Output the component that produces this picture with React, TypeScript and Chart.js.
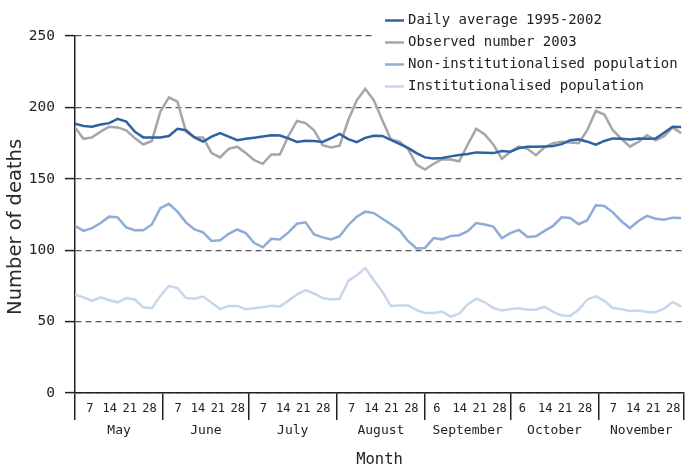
import React, { useEffect, useRef } from 'react';
import { Chart, registerables } from 'chart.js';

Chart.register(...registerables);

// Day index from 1 May 2003 (0 = 1 May, 214 = 1 December)
const days = [0, 3, 6, 9, 12, 15, 18, 21, 24, 27, 30, 33, 36, 39, 42, 45, 48, 51, 54, 57, 60, 63, 66, 69, 72, 75, 78, 81, 84, 87, 90, 93, 96, 99, 102, 105, 108, 111, 114, 117, 120, 123, 126, 129, 132, 135, 138, 141, 144, 147, 150, 153, 156, 159, 162, 165, 168, 171, 174, 177, 180, 183, 186, 189, 192, 195, 198, 201, 204, 207, 210, 213];

const dailyAverage = [188.5, 187, 186.5, 188, 189, 192, 190, 183, 179, 179, 179, 180, 185, 184, 179, 176, 179.5, 182, 179.5, 177, 178, 178.8, 179.6, 180.5, 180.3, 178.3, 175.8, 176.7, 176.4, 175.8, 178.4, 181.5, 177.8, 175.7, 178.7, 180.2, 180, 177.3, 174.5, 171.7, 168, 165, 164.3, 164.5, 165.7, 166.6, 167.3, 168.5, 168.3, 168, 169.5, 169, 171.5, 172.5, 172.5, 172.7, 173, 174.3, 177, 177.6, 176, 173.9, 176.5, 178.3, 178, 177.5, 178.2, 178, 178.2, 182.3, 186.4, 186.3];

const observed2003 = [186, 178, 179, 183, 186.5, 186, 184, 178.5, 174, 176.5, 197, 207, 204, 183, 179, 179, 168, 165, 171, 172.5, 168, 163, 160.5, 167, 167, 180, 190.5, 189, 184, 173.5, 172, 173.2, 191, 205, 213, 205, 191, 177.5, 176, 171, 160, 156.5, 160.5, 163.7, 163.5, 162.3, 174, 185, 181, 174, 164, 169, 172.7, 171, 166.5, 172, 175, 176, 175.5, 175, 184, 197.5, 195, 184, 178, 172.5, 175.8, 180.5, 177, 179.8, 186, 182];

const nonInstitutionalised = [117, 113.5, 115.5, 119, 123.5, 123, 116, 114, 114, 118, 129.5, 132.5, 127, 119.5, 114.5, 112.5, 106.5, 107, 111.5, 114.5, 112, 105, 102, 108, 107.5, 112.5, 118.5, 119.5, 111, 109, 107.5, 109.8, 117.5, 123.5, 127, 126, 122, 118.2, 114, 106.5, 101.2, 101.6, 108.5, 107.6, 110, 110.5, 113.3, 119, 118, 116.5, 108.5, 112, 114.2, 109.2, 109.8, 113.5, 117, 123, 122.5, 118.2, 121, 131.5, 131, 126.5, 120.3, 115.5, 120.5, 124, 122, 121.3, 122.8, 122.5];

const institutionalised = [69, 67, 64.5, 67, 65, 63.5, 66.5, 65.5, 60, 59.4, 68, 75, 73.5, 66.5, 66, 67.5, 63.2, 58.8, 61, 61, 58.7, 59.4, 60.1, 61.1, 60.5, 64.7, 69, 72, 69.7, 66.5, 65.5, 66, 78.5, 82.5, 87.5, 79, 71, 61, 61.2, 61.5, 58, 56, 56, 57, 53.5, 55.5, 62, 66, 63.5, 59.5, 57.8, 58.8, 59.4, 58.3, 58.3, 60.4, 56.8, 54.2, 54, 58.3, 65.5, 67.8, 64.5, 59.5, 58.6, 57.5, 57.8, 56.8, 56.6, 59, 63.8, 60.5];

const seriesLabels = ['Daily average 1995-2002', 'Observed number 2003', 'Non-institutionalised population', 'Institutionalised population'];
const seriesColors = ['#2d62a3', '#a6a6a6', '#8dadd6', '#c6d7ec'];

const monthNames = ['May', 'June', 'July', 'August', 'September', 'October', 'November'];
const monthStarts = [0, 31, 61, 92, 123, 153, 184, 214];
const dayTickLabels = [[7, 14, 21, 28], [7, 14, 21, 28], [7, 14, 21, 28], [7, 14, 21, 28], [6, 14, 21, 28], [6, 14, 21, 28], [7, 14, 21, 28]];
const yTickValues = [0, 50, 100, 150, 200, 250];

const MONO = '"DejaVu Sans Mono", monospace';
const INK = '#222222';

const dayTicks: { value: number; label: string }[] = [];
monthNames.forEach((_, m) => {
  dayTicks.push({ value: monthStarts[m], label: '' });
  dayTickLabels[m].forEach((d) => dayTicks.push({ value: monthStarts[m] + d - 1.8, label: String(d) }));
});
dayTicks.push({ value: monthStarts[monthStarts.length - 1], label: '' });
const boundarySet = new Set(monthStarts);
const monthMids = monthNames.map((_, i) => (monthStarts[i] + monthStarts[i + 1]) / 2);

const toPoints = (vals: number[]) => days.map((d, i) => ({ x: d, y: vals[i] }));

const cornerLegend = {
  id: 'cornerLegend',
  afterDraw(chart: any) {
    const ctx = chart.ctx;
    ctx.save();
    ctx.fillStyle = '#ffffff';
    ctx.fillRect(374, 0, chart.width - 374, 97);
    chart.data.datasets.forEach((ds: any, i: number) => {
      const y = 20.5 + i * 22;
      ctx.strokeStyle = ds.borderColor;
      ctx.lineWidth = 2.5;
      ctx.setLineDash([]);
      ctx.beginPath();
      ctx.moveTo(385, y);
      ctx.lineTo(404, y);
      ctx.stroke();
      ctx.fillStyle = INK;
      ctx.font = `14px ${MONO}`;
      ctx.textBaseline = 'middle';
      ctx.textAlign = 'left';
      ctx.fillText(ds.label, 408, y);
    });
    ctx.restore();
  },
};

export default function App() {
  const canvasRef = useRef<HTMLCanvasElement | null>(null);

  useEffect(() => {
    document.body.style.margin = '0';
    const canvas = canvasRef.current;
    if (!canvas) return;
    const series = [dailyAverage, observed2003, nonInstitutionalised, institutionalised];
    const chart = new Chart(canvas, {
      type: 'line',
      data: {
        datasets: series.map((vals, i) => ({
          label: seriesLabels[i],
          data: toPoints(vals),
          borderColor: seriesColors[i],
          backgroundColor: seriesColors[i],
          borderWidth: 2.5,
          pointRadius: 0,
          tension: 0,
          fill: false,
        })),
      },
      options: {
        animation: false,
        responsive: false,
        devicePixelRatio: 1,
        layout: { padding: { top: 36, right: 2, left: 0, bottom: 0 } },
        plugins: { legend: { display: false }, tooltip: { enabled: false } },
        scales: {
          x: {
            type: 'linear',
            position: 'bottom',
            weight: 0,
            min: 0,
            max: 214,
            bounds: 'data',
            afterBuildTicks: (s: any) => {
              s.ticks = dayTicks.map((t) => ({ value: t.value }));
            },
            afterFit: (s: any) => {
              s.height = 27;
            },
            ticks: {
              autoSkip: false,
              maxRotation: 0,
              minRotation: 0,
              padding: -18,
              color: INK,
              font: { family: MONO, size: 12 },
              callback: (_v: any, i: number) => dayTicks[i].label,
            },
            grid: {
              drawOnChartArea: false,
              drawTicks: true,
              tickLength: 27,
              lineWidth: 1.5,
              color: (c: any) => (c.tick && boundarySet.has(c.tick.value) ? INK : 'rgba(0,0,0,0)'),
            },
            border: { display: true, color: INK, width: 1.5 },
          },
          x2: {
            type: 'linear',
            position: 'bottom',
            weight: 1,
            min: 0,
            max: 214,
            bounds: 'data',
            afterBuildTicks: (s: any) => {
              s.ticks = monthMids.map((v) => ({ value: v }));
            },
            afterFit: (s: any) => {
              s.height = 49;
            },
            ticks: {
              autoSkip: false,
              maxRotation: 0,
              minRotation: 0,
              padding: 3,
              color: INK,
              font: { family: MONO, size: 13 },
              callback: (_v: any, i: number) => monthNames[i],
            },
            grid: { display: false, drawTicks: false },
            border: { display: false },
            title: { display: true, text: 'Month', color: INK, font: { family: MONO, size: 15.5 }, padding: 0 },
          },
          y: {
            type: 'linear',
            position: 'left',
            min: 0,
            max: 250,
            afterBuildTicks: (s: any) => {
              s.ticks = yTickValues.map((v) => ({ value: v }));
            },
            afterFit: (s: any) => {
              s.width = 75;
            },
            ticks: { padding: 10, color: INK, font: { family: MONO, size: 14.5 } },
            grid: { color: '#555555', lineWidth: 1.2, tickLength: 10, tickColor: INK, tickWidth: 1.5, tickBorderDash: [] },
            border: { display: true, color: INK, width: 1.5, dash: [6, 4] },
            title: {
              display: true,
              text: 'Number of deaths    ',
              color: '#2a2a2a',
              font: { family: '"DejaVu Sans", sans-serif', size: 19.5 },
              padding: { top: 4, bottom: 0 },
            },
          },
        },
      } as any,
      plugins: [cornerLegend],
    });
    return () => chart.destroy();
  }, []);

  return (
    <div style={{ width: 686, height: 469 }}>
      <canvas ref={canvasRef} width={686} height={469} style={{ display: 'block' }} />
    </div>
  );
}
